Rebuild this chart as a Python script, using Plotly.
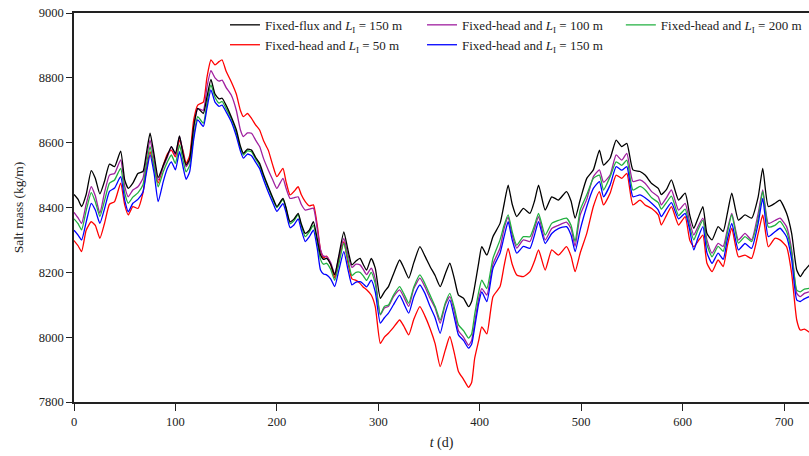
import plotly.graph_objects as go

t = [0, 4, 7.5, 12, 17, 21, 25.5, 30, 35, 40, 46, 50, 53.5, 58, 63, 68, 71, 75, 79, 83,
     88, 92, 96, 100, 104, 107.5, 110.5, 114, 118, 122, 127.5, 131, 135, 139, 143, 146, 150, 155, 160, 164,
     167, 171, 175, 179, 183, 187, 191.5, 196, 200, 206, 209, 213, 217, 221, 224, 228, 232, 236, 240, 243,
     246, 249, 253, 257, 261, 266, 270, 274, 278, 282, 285, 288.5, 293, 297, 302, 306, 310, 315, 321, 325,
     330, 335, 341, 346, 351, 356, 361, 366, 370.5, 375, 379, 384, 389, 392, 395, 399, 402, 407, 413, 420,
     424, 428, 432, 436.5, 443, 449.5, 454, 458, 464.5, 471, 477.5, 485.5, 490, 494, 499, 505.5, 512, 518, 522, 528.5,
     534.5, 540, 545, 551, 558, 563, 569.5, 576, 579, 584, 589, 596, 602.5, 607, 611, 615, 620, 624, 629, 635,
     640, 644, 648.5, 655, 661.5, 668, 674.5, 679, 684.5, 691, 696, 702.5, 707.5, 712.5, 716, 720, 725]

flux_150 = [8440, 8425, 8403, 8440, 8514, 8490, 8442, 8480, 8534, 8526, 8574, 8485, 8459, 8475, 8505, 8511, 8560, 8629, 8562, 8493,
            8530, 8560, 8588, 8567, 8621, 8565, 8531, 8550, 8650, 8706, 8690, 8740, 8795, 8750, 8735, 8737, 8715, 8680, 8640, 8590,
            8567, 8580, 8577, 8555, 8536, 8500, 8464, 8430, 8403, 8428, 8400, 8356, 8365, 8382, 8350, 8320, 8330, 8356, 8300, 8254,
            8240, 8243, 8225, 8192, 8250, 8325, 8270, 8223, 8235, 8243, 8225, 8207, 8243, 8213, 8120, 8140, 8156, 8195, 8238, 8215,
            8182, 8230, 8279, 8250, 8218, 8190, 8156, 8195, 8228, 8180, 8130, 8120, 8094, 8110, 8156, 8230, 8279, 8253, 8310, 8351,
            8410, 8469, 8410, 8372, 8397, 8382, 8420, 8469, 8392, 8433, 8423, 8449, 8420, 8367, 8423, 8490, 8516, 8577, 8531, 8552,
            8608, 8588, 8598, 8516, 8511, 8500, 8474, 8459, 8440, 8455, 8485, 8423, 8444, 8377, 8336, 8365, 8403, 8320, 8300, 8341,
            8326, 8380, 8444, 8361, 8377, 8367, 8433, 8521, 8403, 8413, 8423, 8382, 8320, 8207, 8187, 8205, 8223]

head_100 = [8385, 8368, 8351, 8410, 8464, 8436, 8382, 8445, 8500, 8505, 8547, 8465, 8433, 8454, 8464, 8490, 8545, 8608, 8546, 8485,
            8525, 8555, 8588, 8562, 8619, 8570, 8526, 8545, 8645, 8705, 8700, 8770, 8822, 8800, 8790, 8793, 8770, 8747, 8700, 8640,
            8619, 8630, 8629, 8608, 8588, 8550, 8516, 8485, 8459, 8490, 8460, 8428, 8430, 8433, 8410, 8392, 8395, 8398, 8330, 8270,
            8250, 8248, 8230, 8195, 8245, 8305, 8255, 8215, 8225, 8223, 8210, 8193, 8213, 8180, 8069, 8090, 8095, 8125, 8146, 8125,
            8095, 8150, 8182, 8155, 8120, 8090, 8043, 8100, 8125, 8080, 8020, 8000, 7975, 7990, 8045, 8120, 8150, 8130, 8225, 8275,
            8335, 8370, 8315, 8275, 8300, 8295, 8335, 8372, 8300, 8335, 8345, 8355, 8335, 8280, 8377, 8425, 8495, 8516, 8478, 8500,
            8562, 8546, 8567, 8480, 8485, 8475, 8449, 8433, 8408, 8430, 8454, 8392, 8413, 8355, 8315, 8340, 8367, 8300, 8259, 8289,
            8280, 8330, 8382, 8300, 8320, 8300, 8382, 8454, 8351, 8360, 8367, 8341, 8270, 8135, 8125, 8135, 8140]

head_200 = [8365, 8350, 8331, 8390, 8446, 8418, 8372, 8420, 8475, 8485, 8521, 8445, 8413, 8432, 8445, 8470, 8525, 8588, 8526, 8464,
            8510, 8540, 8562, 8536, 8593, 8545, 8510, 8530, 8620, 8680, 8660, 8720, 8778, 8740, 8722, 8727, 8705, 8675, 8630, 8585,
            8562, 8575, 8572, 8550, 8530, 8495, 8460, 8425, 8400, 8425, 8398, 8350, 8360, 8378, 8345, 8310, 8325, 8345, 8290, 8240,
            8225, 8228, 8210, 8175, 8225, 8290, 8240, 8190, 8200, 8200, 8190, 8175, 8200, 8165, 8070, 8095, 8099, 8130, 8156, 8135,
            8105, 8155, 8192, 8165, 8130, 8095, 8053, 8105, 8135, 8090, 8038, 8020, 7997, 8010, 8070, 8140, 8176, 8150, 8243, 8300,
            8345, 8377, 8325, 8284, 8310, 8310, 8345, 8382, 8315, 8351, 8360, 8367, 8345, 8295, 8392, 8439, 8490, 8500, 8454, 8495,
            8541, 8530, 8546, 8454, 8465, 8455, 8430, 8415, 8395, 8415, 8435, 8375, 8395, 8340, 8300, 8330, 8360, 8285, 8248, 8280,
            8265, 8320, 8378, 8290, 8310, 8295, 8367, 8450, 8340, 8345, 8357, 8326, 8260, 8145, 8140, 8148, 8151]

head_150 = [8330, 8315, 8300, 8355, 8413, 8392, 8351, 8395, 8450, 8460, 8495, 8423, 8387, 8413, 8425, 8448, 8500, 8562, 8505, 8418,
            8480, 8520, 8541, 8516, 8572, 8525, 8487, 8510, 8610, 8670, 8650, 8705, 8763, 8725, 8712, 8716, 8695, 8665, 8620, 8575,
            8552, 8565, 8560, 8540, 8520, 8485, 8448, 8415, 8388, 8412, 8385, 8338, 8347, 8365, 8332, 8295, 8310, 8330, 8270, 8207,
            8195, 8192, 8180, 8156, 8205, 8264, 8210, 8161, 8170, 8171, 8165, 8155, 8176, 8140, 8043, 8060, 8074, 8100, 8130, 8105,
            8074, 8125, 8161, 8135, 8095, 8060, 8012, 8075, 8115, 8060, 8007, 7990, 7966, 7978, 8030, 8105, 8140, 8110, 8212, 8259,
            8310, 8356, 8300, 8259, 8280, 8274, 8315, 8356, 8289, 8320, 8335, 8341, 8315, 8264, 8331, 8403, 8459, 8480, 8433, 8469,
            8526, 8515, 8526, 8433, 8439, 8430, 8413, 8392, 8372, 8395, 8415, 8365, 8382, 8330, 8269, 8305, 8341, 8260, 8228, 8259,
            8240, 8300, 8351, 8269, 8289, 8274, 8351, 8428, 8310, 8325, 8336, 8310, 8240, 8115, 8110, 8118, 8125]

head_50 = [8298, 8282, 8264, 8330, 8356, 8345, 8305, 8350, 8410, 8418, 8475, 8408, 8377, 8403, 8397, 8445, 8510, 8572, 8526, 8475,
           8530, 8565, 8577, 8556, 8608, 8575, 8536, 8560, 8670, 8716, 8725, 8800, 8855, 8840, 8850, 8855, 8820, 8788, 8750, 8700,
           8680, 8690, 8675, 8655, 8639, 8605, 8577, 8530, 8495, 8521, 8480, 8439, 8450, 8464, 8440, 8418, 8405, 8408, 8340, 8269,
           8245, 8250, 8225, 8182, 8235, 8295, 8230, 8180, 8175, 8166, 8155, 8146, 8130, 8094, 7981, 8000, 8012, 8030, 8053, 8035,
           8007, 8055, 8094, 8065, 8027, 7980, 7909, 7960, 8002, 7950, 7894, 7870, 7845, 7860, 7935, 7990, 8032, 8010, 8125, 8156,
           8220, 8274, 8225, 8192, 8187, 8202, 8235, 8269, 8207, 8269, 8253, 8279, 8250, 8202, 8259, 8320, 8403, 8449, 8408, 8444,
           8500, 8490, 8505, 8408, 8423, 8408, 8397, 8377, 8346, 8375, 8403, 8346, 8372, 8300, 8279, 8295, 8315, 8228, 8202, 8238,
           8218, 8280, 8336, 8248, 8253, 8243, 8320, 8377, 8279, 8305, 8300, 8279, 8197, 8053, 8022, 8025, 8015]

x_ticks = [0, 100, 200, 300, 400, 500, 600, 700]
y_ticks = [7800, 8000, 8200, 8400, 8600, 8800, 9000]

SUB = "<i>L</i><sub>I</sub>"
series = [
    ("Fixed-flux and " + SUB + " = 150 m", flux_150, "#000000", "legend"),
    ("Fixed-head and " + SUB + " = 50 m", head_50, "#ff0000", "legend"),
    ("Fixed-head and " + SUB + " = 100 m", head_100, "#a0209f", "legend2"),
    ("Fixed-head and " + SUB + " = 150 m", head_150, "#0000ff", "legend2"),
    ("Fixed-head and " + SUB + " = 200 m", head_200, "#22b040", "legend3"),
]

FONT = "Liberation Serif"
fig = go.Figure()
for name, vals, col, lg in [series[1], series[2], series[4], series[3], series[0]]:
    fig.add_trace(go.Scatter(x=t, y=vals, mode="lines", name=name,
                             line=dict(color=col, width=1.3, shape="spline", smoothing=0.5), legend=lg))

leg_common = dict(bgcolor="rgba(0,0,0,0)", font=dict(family=FONT, size=13, color="#222"),
                  orientation="v", xanchor="left", yanchor="top", tracegroupgap=0,
                  traceorder="normal", itemwidth=30)
fig.update_layout(
    width=809, height=456,
    margin=dict(l=74, r=0, t=13, b=54, autoexpand=False),
    plot_bgcolor="white", paper_bgcolor="white",
    font=dict(family=FONT, size=12, color="#222"),
    legend=dict(x=0.2054, y=1.008, **leg_common),
    legend2=dict(x=0.4735, y=1.008, **leg_common),
    legend3=dict(x=0.744, y=1.008, **leg_common),
    xaxis=dict(range=[0, 724.6], tickvals=x_ticks, ticks="outside", ticklen=7, tickwidth=1.3,
               tickcolor="#222", showline=True, linecolor="#222", linewidth=1.5, mirror=True,
               showgrid=False, zeroline=False, tickfont=dict(family=FONT, size=12.5, color="#222"),
               title=dict(text="<i>t</i> (d)", font=dict(family=FONT, size=14, color="#222"), standoff=9)),
    yaxis=dict(range=[7800, 9000], tickvals=y_ticks, ticks="outside", ticklen=6, tickwidth=1.3,
               tickcolor="#222", showline=True, linecolor="#222", linewidth=1.5, mirror=False,
               showgrid=False, zeroline=False, tickfont=dict(family=FONT, size=12.5, color="#222"),
               title=dict(text="Salt mass (kg/m)", font=dict(family=FONT, size=13.5, color="#222"), standoff=12)),
)
fig.data[4].legendrank = 1
fig.data[0].legendrank = 2
fig.data[1].legendrank = 1
fig.data[3].legendrank = 2

fig.write_html("out.html")
